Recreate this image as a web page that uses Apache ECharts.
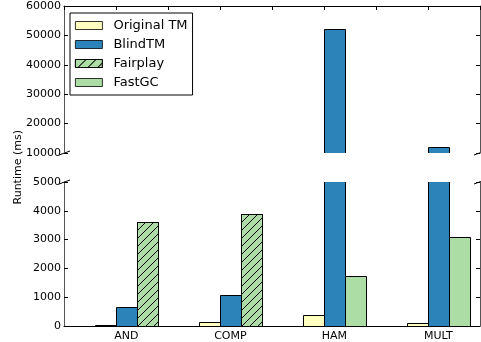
<!DOCTYPE html>
<html>
<head>
<meta charset="utf-8">
<script src="https://cdn.jsdelivr.net/npm/echarts@6/dist/echarts.min.js"></script>
<style>
  html, body { margin: 0; padding: 0; background: #fff; }
  #chart { width: 481px; height: 342px; }
</style>
</head>
<body>
<div id="chart"></div>
<script>
// categories and runtimes (ms)
const categories = ['AND', 'COMP', 'HAM', 'MULT']
const originalTM = [30, 140, 390, 100]
const blindTM = [650, 1070, 52200, 11950]
const fairplay = [3600, 3890, null, null]
const fastGC = [null, null, 1730, 3090]
const topTicks = [10000, 20000, 30000, 40000, 50000, 60000]
const bottomTicks = [0, 1000, 2000, 3000, 4000, 5000]

const font = 'DejaVu Sans'
const colors = {
    original: '#ffffbf',
    blind: '#2b83ba',
    green: '#abdda4'
}
const barWidth = 0.2

// [x, y] pairs, missing bars left out
function pairs(list) {
    let out = []
    list.forEach((v, i) => { if (v != null) out.push([i, v]) })
    return out
}

// "/" hatch tile for the Fairplay bars
function hatchTile() {
    let c = document.createElement('canvas')
    c.width = 8
    c.height = 8
    let ctx = c.getContext('2d')
    ctx.strokeStyle = '#000'
    ctx.lineWidth = 1
    ctx.beginPath()
    ctx.moveTo(-1, 9); ctx.lineTo(9, -1)
    ctx.moveTo(-1, 1); ctx.lineTo(1, -1)
    ctx.moveTo(7, 9); ctx.lineTo(9, 7)
    ctx.stroke()
    return c
}
const hatchPattern = { image: hatchTile(), repeat: 'repeat' }

// legend icon decal
const hatch = {
    symbol: 'rect',
    symbolSize: 1,
    dashArrayX: [1, 0],
    dashArrayY: [1, 6],
    rotation: -Math.PI / 4,
    color: '#000'
}

// bar drawn through the axes; clipped by the grid so cut edges have no border
function barRenderer(offset, color, hatched) {
    return function (params, api) {
        let x = api.value(0)
        let y = api.value(1)
        let p0 = api.coord([x + offset - barWidth / 2, 0])
        let p1 = api.coord([x + offset + barWidth / 2, y])
        let shape = {
            x: Math.round(p0[0]) + 0.5,
            y: Math.round(p1[1]) + 0.5,
            width: Math.round(p1[0]) - Math.round(p0[0]),
            height: Math.round(p0[1]) - Math.round(p1[1])
        }
        let children = [{ type: 'rect', shape: shape, style: { fill: color, stroke: '#000', lineWidth: 1 } }]
        if (hatched) {
            children.push({ type: 'rect', shape: shape, style: { fill: hatchPattern, stroke: '#000', lineWidth: 1 } })
        }
        return { type: 'group', children: children }
    }
}

function barSeries(name, list, offset, color, panel, hatched) {
    let style = { color: color, borderColor: '#000', borderWidth: 1 }
    if (hatched) style.decal = hatch
    return {
        name: name,
        type: 'custom',
        xAxisIndex: panel,
        yAxisIndex: panel,
        clip: true,
        encode: { x: 0, y: 1 },
        itemStyle: style,
        renderItem: barRenderer(offset, color, hatched),
        data: pairs(list)
    }
}

let myChart = echarts.init(document.getElementById('chart'), null, { renderer: 'canvas' })

let yLabel = { fontFamily: font, fontSize: 11, color: '#000', margin: 3, formatter: v => String(v) }
let tickIn = { inside: true, length: 4, lineStyle: { color: '#000' } }
let spine = { show: true, onZero: false, lineStyle: { color: '#555', width: 1 } }

let option = {
    animation: false,
    grid: [
        { left: 64, top: 6, width: 416, height: 147 },
        { left: 64, top: 182, width: 416, height: 146 }
    ],
    legend: {
        left: 70,
        top: 13,
        orient: 'vertical',
        backgroundColor: '#fff',
        borderColor: '#000',
        borderWidth: 1,
        padding: [5, 5, 5, 5],
        itemWidth: 27,
        itemHeight: 8,
        itemGap: 4,
        icon: 'rect',
        itemStyle: { borderColor: '#000', borderWidth: 0.8 },
        data: ['Original TM', 'BlindTM', 'Fairplay', 'FastGC'],
        textStyle: { fontFamily: font, fontSize: 13, color: '#000', lineHeight: 15, padding: [0, 0, 0, 6] }
    },
    xAxis: [
        {
            gridIndex: 0, type: 'value', position: 'top', min: -0.6, max: 3.4, interval: 0.5,
            axisLine: { show: true, onZero: false, lineStyle: { color: '#000' } },
            axisTick: tickIn, axisLabel: { show: false }, splitLine: { show: false }
        },
        {
            gridIndex: 1, type: 'value', position: 'bottom', min: -0.6, max: 3.4,
            axisLine: { show: true, onZero: false, lineStyle: { color: '#000' } },
            axisTick: { inside: true, length: 4, customValues: [0, 1, 2, 3], lineStyle: { color: '#000' } },
            axisLabel: {
                fontFamily: font, fontSize: 11, color: '#000', margin: 5,
                customValues: [0, 1, 2, 3],
                formatter: v => categories[Math.round(v)]
            },
            splitLine: { show: false }
        }
    ],
    yAxis: [
        {
            gridIndex: 0, type: 'value', min: topTicks[0], max: topTicks[topTicks.length - 1], interval: 10000,
            axisLine: spine, axisTick: tickIn, axisLabel: yLabel, splitLine: { show: false }
        },
        {
            gridIndex: 1, type: 'value', min: bottomTicks[0], max: bottomTicks[bottomTicks.length - 1], interval: 1000,
            axisLine: spine, axisTick: tickIn, axisLabel: yLabel, splitLine: { show: false }
        },
        {
            gridIndex: 0, type: 'value', position: 'right', min: topTicks[0], max: topTicks[topTicks.length - 1], interval: 10000,
            axisLine: spine, axisTick: tickIn, axisLabel: { show: false }, splitLine: { show: false }
        },
        {
            gridIndex: 1, type: 'value', position: 'right', min: bottomTicks[0], max: bottomTicks[bottomTicks.length - 1], interval: 1000,
            axisLine: spine, axisTick: tickIn, axisLabel: { show: false }, splitLine: { show: false }
        }
    ],
    series: [
        // bottom panel
        barSeries('Original TM', originalTM, -0.2, colors.original, 1),
        barSeries('BlindTM', blindTM, 0, colors.blind, 1),
        barSeries('Fairplay', fairplay, 0.2, colors.green, 1, true),
        barSeries('FastGC', fastGC, 0.2, colors.green, 1),
        // top panel
        barSeries('BlindTM', blindTM, 0, colors.blind, 0)
    ],
    graphic: [
        {
            type: 'text', left: 13, top: 130, rotation: Math.PI / 2,
            style: { text: 'Runtime (ms)', fontFamily: font, fontSize: 11, fill: '#000' }
        },
        // break marks
        { type: 'line', shape: { x1: 59, y1: 155, x2: 70, y2: 151 }, style: { stroke: '#000', lineWidth: 1 } },
        { type: 'line', shape: { x1: 59, y1: 184, x2: 70, y2: 180 }, style: { stroke: '#000', lineWidth: 1 } },
        { type: 'line', shape: { x1: 474, y1: 155, x2: 485, y2: 151 }, style: { stroke: '#000', lineWidth: 1 } },
        { type: 'line', shape: { x1: 474, y1: 184, x2: 485, y2: 180 }, style: { stroke: '#000', lineWidth: 1 } }
    ]
}

myChart.setOption(option)
</script>
</body>
</html>
